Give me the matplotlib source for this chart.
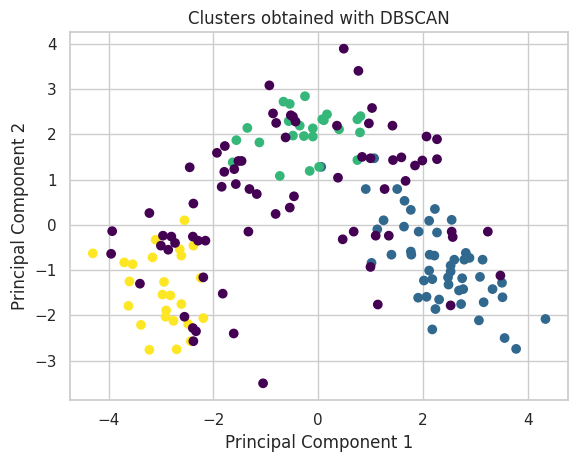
import matplotlib
matplotlib.use("Agg")
import matplotlib.pyplot as plt
import numpy as np
import seaborn as sns

#-Points, grouped by DBSCAN label---------------------------------------
noise_x = [-2.45, -2.38, -3.22, -3.93, -3.95, -2.96, -2.80, -3.00, -2.86, -2.73,
           -2.39, -2.29, -2.15, -3.40, -2.55, -2.39, -2.33, -2.38, -2.19, -1.82,
           -1.61, -1.05, -1.52, -1.46, -1.79, -1.60, -1.84, -1.57, -1.31, -1.17,
           -0.46, -0.54, -0.81, -1.33, -0.93, -0.86, -0.52, -0.48, -0.43, -0.80,
           -0.62, -1.78, -1.93, 0.49, 0.77, 1.03, 0.97, 0.36, 1.42, 2.07,
           2.27, 0.84, 1.00, 1.43, 1.59, 1.85, 1.99, 2.27, 0.38, 1.67,
           1.27, 2.55, 2.57, 0.68, 0.47, 1.10, 1.35, 1.00, 1.14, 2.53,
           3.24, 3.48]
noise_y = [1.27, 0.47, 0.26, -0.14, -0.64, -0.24, -0.26, -0.46, -0.55, -0.40,
           -0.26, -0.35, -0.35, -1.30, -2.03, -2.28, -2.35, -2.57, -1.16, -1.52,
           -2.40, -3.50, 1.41, 1.41, 1.17, 1.23, 0.84, 0.90, 0.79, 0.68,
           0.63, 0.38, 0.24, -0.15, 3.08, 2.46, 2.42, 2.39, 2.28, 2.25,
           1.93, 1.74, 1.59, 3.89, 3.40, 2.58, 2.24, 2.19, 2.19, 1.95,
           1.89, 1.50, 1.47, 1.43, 1.49, 1.31, 1.42, 1.45, 1.04, 0.97,
           0.79, -0.15, -0.27, -0.15, -0.32, -0.24, -0.24, -0.93, -1.76, -1.78,
           -0.15, -1.12]

c0_x = [1.07, 0.06, 0.91, 1.51, 1.65, 1.77, 2.23, 1.25, 2.12, 2.55,
        1.13, 1.64, 1.92, 2.27, 1.40, 1.77, 1.78, 2.13, 2.22, 1.02,
        2.12, 2.02, 2.18, 2.48, 2.49, 1.91, 2.07, 2.31, 2.24, 2.18,
        2.82, 2.89, 2.79, 2.60, 3.14, 2.53, 2.53, 2.75, 3.09, 3.51,
        2.69, 2.77, 3.33, 3.52, 2.73, 3.16, 3.07, 4.34, 3.56, 3.78]
c0_y = [1.47, 1.28, 0.79, 0.79, 0.53, 0.33, 0.35, 0.10, 0.09, 0.11,
        -0.10, -0.04, -0.15, -0.17, -0.66, -0.59, -0.66, -0.66, -0.68, -0.84,
        -1.01, -1.23, -1.20, -1.16, -1.32, -1.61, -1.59, -1.65, -1.86, -2.31,
        -0.62, -0.73, -0.77, -0.77, -0.77, -0.90, -1.03, -1.18, -1.15, -1.28,
        -1.45, -1.42, -1.42, -1.60, -1.75, -1.71, -2.11, -2.08, -2.50, -2.74]

c1_x = [-1.63, -0.73, -0.16, 0.02, -0.25, -0.66, -0.54, -0.56, -0.35, -1.35,
        -0.10, 0.08, -0.48, -0.27, -0.10, -1.56, -1.12, 0.17, 0.11, 0.81,
        0.75, 0.40, 0.80, 0.75]
c1_y = [1.38, 1.08, 1.19, 1.28, 2.84, 2.72, 2.67, 2.29, 2.19, 2.14,
        2.13, 2.33, 1.97, 1.96, 1.95, 1.87, 1.82, 2.44, 2.31, 2.40,
        2.33, 2.11, 2.04, 1.43]

c2_x = [-4.30, -3.70, -3.54, -3.16, -3.10, -2.55, -2.64, -2.61, -2.38, -3.60,
        -2.94, -2.97, -2.82, -3.62, -2.61, -2.90, -2.91, -2.76, -3.38, -2.48,
        -2.43, -3.22, -2.70, -2.24, -2.19]
c2_y = [-0.63, -0.83, -0.87, -0.72, -0.33, 0.10, -0.54, -0.68, -0.46, -1.25,
        -1.26, -1.54, -1.56, -1.79, -1.75, -1.89, -2.03, -2.12, -2.21, -2.19,
        -2.57, -2.76, -2.75, -1.17, -2.06]
#------------------------------------------------------------------------

x = np.array(c0_x + c1_x + c2_x + noise_x)
y = np.array(c0_y + c1_y + c2_y + noise_y)
labels = np.array([0] * len(c0_x) + [1] * len(c1_x) + [2] * len(c2_x) + [-1] * len(noise_x))

sns.set_theme(style="whitegrid")

fig = plt.figure(figsize=(5.75, 4.63), dpi=100)
fig.subplots_adjust(left=0.122, right=0.988, top=0.931, bottom=0.136)
plt.scatter(x, y, c=labels, cmap="viridis")
plt.title("Clusters obtained with DBSCAN")
plt.xlabel("Principal Component 1")
plt.ylabel("Principal Component 2")

fig.savefig("out.png", dpi=100)
